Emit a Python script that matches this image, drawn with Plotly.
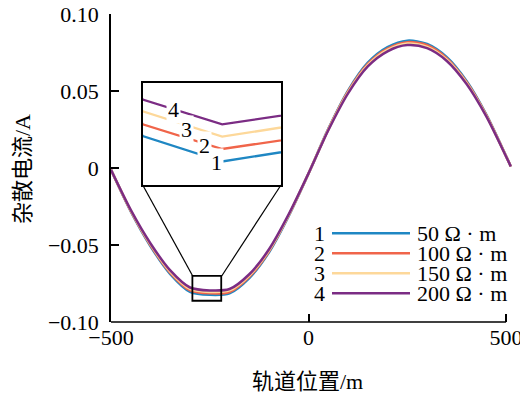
import plotly.graph_objects as go

# ---- data ----
x_pos = [-500, -450, -400, -350, -300, -250, -200, -150, -100, -50, 0,
         50, 100, 150, 200, 250, 300, 350, 400, 450, 500, 512]

current_50 = [-0.0012, -0.0282, -0.0508, -0.0689, -0.0804, -0.08236, -0.0814,
              -0.0715, -0.0547, -0.0311, -0.0036, 0.0254, 0.0503, 0.0684,
              0.0785, 0.0827, 0.0806, 0.0720, 0.0565, 0.0347, 0.0078, 0.0010]
current_100 = [-0.0012, -0.0279, -0.0502, -0.0681, -0.0795, -0.0814, -0.0805,
               -0.0707, -0.0541, -0.0307, -0.0036, 0.0251, 0.0497, 0.0676,
               0.0776, 0.0817, 0.0797, 0.0712, 0.0558, 0.0343, 0.0077, 0.0010]
current_150 = [-0.0012, -0.0275, -0.0496, -0.0673, -0.0785, -0.08045, -0.0795,
               -0.0698, -0.0534, -0.0304, -0.0035, 0.0248, 0.0491, 0.0668,
               0.0767, 0.0808, 0.0787, 0.0703, 0.0552, 0.0339, 0.0076, 0.0010]
current_200 = [-0.0012, -0.0272, -0.0490, -0.0665, -0.0776, -0.0795, -0.0786,
               -0.0690, -0.0528, -0.0300, -0.0035, 0.0245, 0.0485, 0.0660,
               0.0758, 0.0798, 0.0778, 0.0695, 0.0545, 0.0335, 0.0075, 0.0010]

series = [current_50, current_100, current_150, current_200]
series_ids = ["1", "2", "3", "4"]
series_names = ["50 Ω · m", "100 Ω · m", "150 Ω · m", "200 Ω · m"]
colors = ["#1f87c3", "#f0654a", "#fdd89a", "#7b2c84"]

x_ticks = [-500, 0, 500]
x_ticktext = ["\u2212500", "0", "500"]
y_ticks = [-0.10, -0.05, 0, 0.05, 0.10]
y_ticktext = ["\u22120.10", "\u22120.05", "0", "0.05", "0.10"]

zoom_x = [-294, -221]
zoom_y = [-0.0862, -0.0701]
inset_x = [-300, -213]
inset_y = [-0.08417, -0.07632]

SERIF = "Liberation Serif, Times New Roman, Noto Sans CJK SC, serif"
FS = 22

# page has an 8px body margin; positions below are page pixels of the reference
OFF = 8
L, R, T, B = 111 - OFF, 512 - OFF, 14 - OFF, 322 - OFF
W, H = R - L, B - T
def px(xp):
    return (xp - OFF - L) / W
def py(yp):
    return 1 - (yp - OFF - T) / H

fig = go.Figure()
for ys, c, nm in zip(series, colors, series_names):
    fig.add_trace(go.Scatter(x=x_pos, y=ys, mode="lines", name=nm,
                             line=dict(color=c, width=2.5, shape="spline", smoothing=0.8),
                             showlegend=False, cliponaxis=False))
for ys, c, nm in zip(series, colors, series_names):
    fig.add_trace(go.Scatter(x=x_pos, y=ys, mode="lines", name=nm,
                             line=dict(color=c, width=2.3),
                             xaxis="x2", yaxis="y2", showlegend=False))

fig.update_layout(
    width=528, height=396,
    margin=dict(l=L, r=528 - R, t=T, b=396 - B, autoexpand=False),
    paper_bgcolor="white", plot_bgcolor="white",
    font=dict(family=SERIF, size=FS, color="black"),
    xaxis=dict(range=[-500, 515], domain=[0, 1], showline=False, showgrid=False,
               zeroline=False, tickmode="array", tickvals=x_ticks, ticktext=x_ticktext,
               ticks="inside", ticklen=8, tickwidth=1.5, tickcolor="black",
               automargin=False, ticklabeloverflow="allow",
               tickfont=dict(family=SERIF, size=FS)),
    yaxis=dict(range=[-0.1, 0.1], domain=[0, 1], showline=True, linecolor="black",
               linewidth=1.5, showgrid=False, zeroline=False, tickmode="array",
               tickvals=y_ticks, ticktext=y_ticktext, ticks="inside", ticklen=8,
               tickwidth=1.5, tickcolor="black", ticklabelstandoff=6,
               automargin=False, ticklabeloverflow="allow",
               tickfont=dict(family=SERIF, size=FS)),
    xaxis2=dict(domain=[px(142.7), px(281)], anchor="y2", range=inset_x, showline=True,
                mirror=True, linecolor="black", linewidth=1.5, showgrid=False,
                zeroline=False, showticklabels=False, ticks="", automargin=False),
    yaxis2=dict(domain=[py(185), py(83)], anchor="x2", range=inset_y, showline=True,
                mirror=True, linecolor="black", linewidth=1.5, showgrid=False,
                zeroline=False, showticklabels=False, ticks="", automargin=False),
)

shapes = []
shapes.append(dict(type="line", xref="x", yref="paper", x0=-500, x1=500, y0=0, y1=0,
                   line=dict(color="black", width=1.5)))
shapes.append(dict(type="rect", xref="x", yref="y", x0=zoom_x[0], x1=zoom_x[1],
                   y0=zoom_y[0], y1=zoom_y[1], line=dict(color="black", width=1.8)))
shapes.append(dict(type="line", xref="paper", yref="paper", x0=px(142.7), y0=py(185),
                   x1=px(192.7), y1=py(276), line=dict(color="black", width=1.2)))
shapes.append(dict(type="line", xref="paper", yref="paper", x0=px(281), y0=py(185),
                   x1=px(221.7), y1=py(276), line=dict(color="black", width=1.2)))

annotations = []
row_y = [233.3, 253.3, 273.3, 293.3]
for sid, nm, c, ry in zip(series_ids, series_names, colors, row_y):
    shapes.append(dict(type="line", xref="paper", yref="paper", x0=px(332), x1=px(410),
                       y0=py(ry), y1=py(ry), line=dict(color=c, width=2.5)))
    annotations.append(dict(xref="paper", yref="paper", x=px(327), y=py(ry), text=sid,
                            showarrow=False, xanchor="right", yanchor="middle",
                            font=dict(family=SERIF, size=FS)))
    annotations.append(dict(xref="paper", yref="paper", x=px(415), y=py(ry), text=nm,
                            showarrow=False, xanchor="left", yanchor="middle",
                            font=dict(family=SERIF, size=FS)))

inset_lbl = [("4", 173.3, 109), ("3", 186, 129), ("2", 204, 145), ("1", 216, 162.5)]
for t, lx, ly in inset_lbl:
    annotations.append(dict(xref="paper", yref="paper", x=px(lx), y=py(ly), text=t,
                            showarrow=False, xanchor="center", yanchor="middle",
                            bgcolor="white", borderpad=1,
                            font=dict(family=SERIF, size=FS)))

annotations.append(dict(xref="paper", yref="paper", x=px(307), y=py(381),
                        text="轨道位置/m", showarrow=False,
                        xanchor="center", yanchor="middle",
                        font=dict(family=SERIF, size=FS)))
annotations.append(dict(xref="paper", yref="paper", x=px(22), y=py(169),
                        text="杂散电流/A", showarrow=False,
                        textangle=-90, xanchor="center", yanchor="middle",
                        font=dict(family=SERIF, size=FS)))

fig.update_layout(shapes=shapes, annotations=annotations)
fig.write_html("out.html")
